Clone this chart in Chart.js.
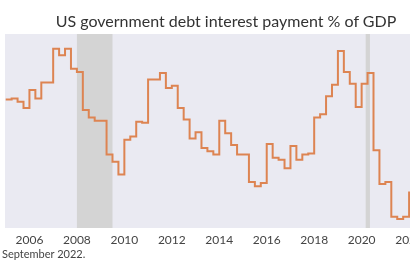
<!DOCTYPE html>
<html lang="en">
<head>
  <meta charset="UTF-8" />
  <title>US government debt interest payment % of GDP</title>
  <script src="https://cdn.jsdelivr.net/npm/chart.js"></script>
  <style>
    html, body { margin: 0; padding: 0; background: #fff; }
    #wrap { position: relative; width: 410px; height: 260px; overflow: hidden; font-family: Lato, sans-serif; }
    #title { position: absolute; left: 0; width: 452px; top: 11px; text-align: center; font-size: 16px; color: #333; white-space: nowrap; }
    #chartBox { position: absolute; left: -45px; top: 0; width: 480px; height: 250px; }
    #note { position: absolute; left: 2px; top: 247px; font-size: 11px; color: #444; white-space: nowrap; }
  </style>
</head>
<body>
  <div id="wrap">
    <div id="chartBox"><canvas id="debtChart" width="480" height="250"></canvas></div>
    <div id="title">US government debt interest payment % of GDP</div>
    <div id="note">September 2022.</div>
  </div>

  <script>
    // quarterly values, first quarter = 2005 Q1
    const firstYear = 2005;
    const interestPct = [
      3.15, 3.16, 3.13, 3.07,  // 2005
      3.24, 3.16, 3.31, 3.31,  // 2006
      3.63, 3.57, 3.63, 3.44,  // 2007
      3.41, 3.05, 2.98, 2.95,  // 2008
      2.95, 2.63, 2.56, 2.44,  // 2009
      2.77, 2.80, 2.94, 2.93,  // 2010
      3.34, 3.34, 3.40, 3.26,  // 2011
      3.28, 3.07, 2.96, 2.78,  // 2012
      2.84, 2.69, 2.66, 2.63,  // 2013
      2.95, 2.83, 2.72, 2.63,  // 2014
      2.63, 2.37, 2.33, 2.36,  // 2015
      2.73, 2.60, 2.58, 2.50,  // 2016
      2.71, 2.58, 2.63, 2.64,  // 2017
      2.98, 3.01, 3.18, 3.29,  // 2018
      3.61, 3.41, 3.30, 3.08,  // 2019
      3.30, 3.40, 2.67, 2.35,  // 2020
      2.37, 2.04, 2.02, 2.04,  // 2021
      2.27, 2.39               // 2022
    ];
    // recessions (shaded)
    const recessionStart = [2008.0, 2020.17];
    const recessionEnd = [2009.5, 2020.35];
    const yearTicks = [2006, 2008, 2010, 2012, 2014, 2016, 2018, 2020, 2022];
    const pctTicks = [2.0, 2.5, 3.0, 3.5];

    const points = interestPct.map((v, i) => ({ x: firstYear + i * 0.25, y: v }));

    // plot background + recession bands
    const bgPlugin = {
      id: 'bg',
      beforeDatasetsDraw(chart) {
        const { ctx, chartArea: a, scales } = chart;
        ctx.save();
        ctx.fillStyle = '#eaeaf2';
        ctx.fillRect(a.left, a.top, a.right - a.left, a.bottom - a.top);
        ctx.fillStyle = '#d4d4d4';
        recessionStart.forEach((s, i) => {
          const x0 = scales.x.getPixelForValue(s);
          const x1 = scales.x.getPixelForValue(recessionEnd[i]);
          ctx.fillRect(x0, a.top, x1 - x0, a.bottom - a.top);
        });
        ctx.restore();
      }
    };

    new Chart(document.getElementById('debtChart'), {
      type: 'line',
      data: {
        datasets: [{
          data: points,
          borderColor: '#dd8452',
          borderWidth: 2,
          pointRadius: 0,
          stepped: true,
          tension: 0
        }]
      },
      options: {
        responsive: false,
        animation: false,
        devicePixelRatio: 1,
        layout: { padding: { top: 34, right: 10, bottom: 0, left: 0 } },
        plugins: { legend: { display: false }, tooltip: { enabled: false } },
        scales: {
          x: {
            type: 'linear',
            min: 2004.97,
            max: 2022.67,
            afterFit: s => { s.height = 22; },
            afterBuildTicks: s => { s.ticks = yearTicks.map(v => ({ value: v })); },
            grid: { display: false, drawTicks: false },
            border: { display: false },
            ticks: {
              padding: 5, maxRotation: 0, autoSkip: false,
              color: '#444', font: { family: 'Lato', size: 12 },
              callback: v => String(v)
            }
          },
          y: {
            min: 1.934,
            max: 3.770,
            afterFit: s => { s.width = 50; },
            afterBuildTicks: s => { s.ticks = pctTicks.map(v => ({ value: v })); },
            grid: { display: false, drawTicks: false },
            border: { display: false },
            ticks: {
              padding: 5,
              color: '#444', font: { family: 'Lato', size: 12 },
              callback: v => v.toFixed(1)
            }
          }
        }
      },
      plugins: [bgPlugin]
    });
  </script>
</body>
</html>
